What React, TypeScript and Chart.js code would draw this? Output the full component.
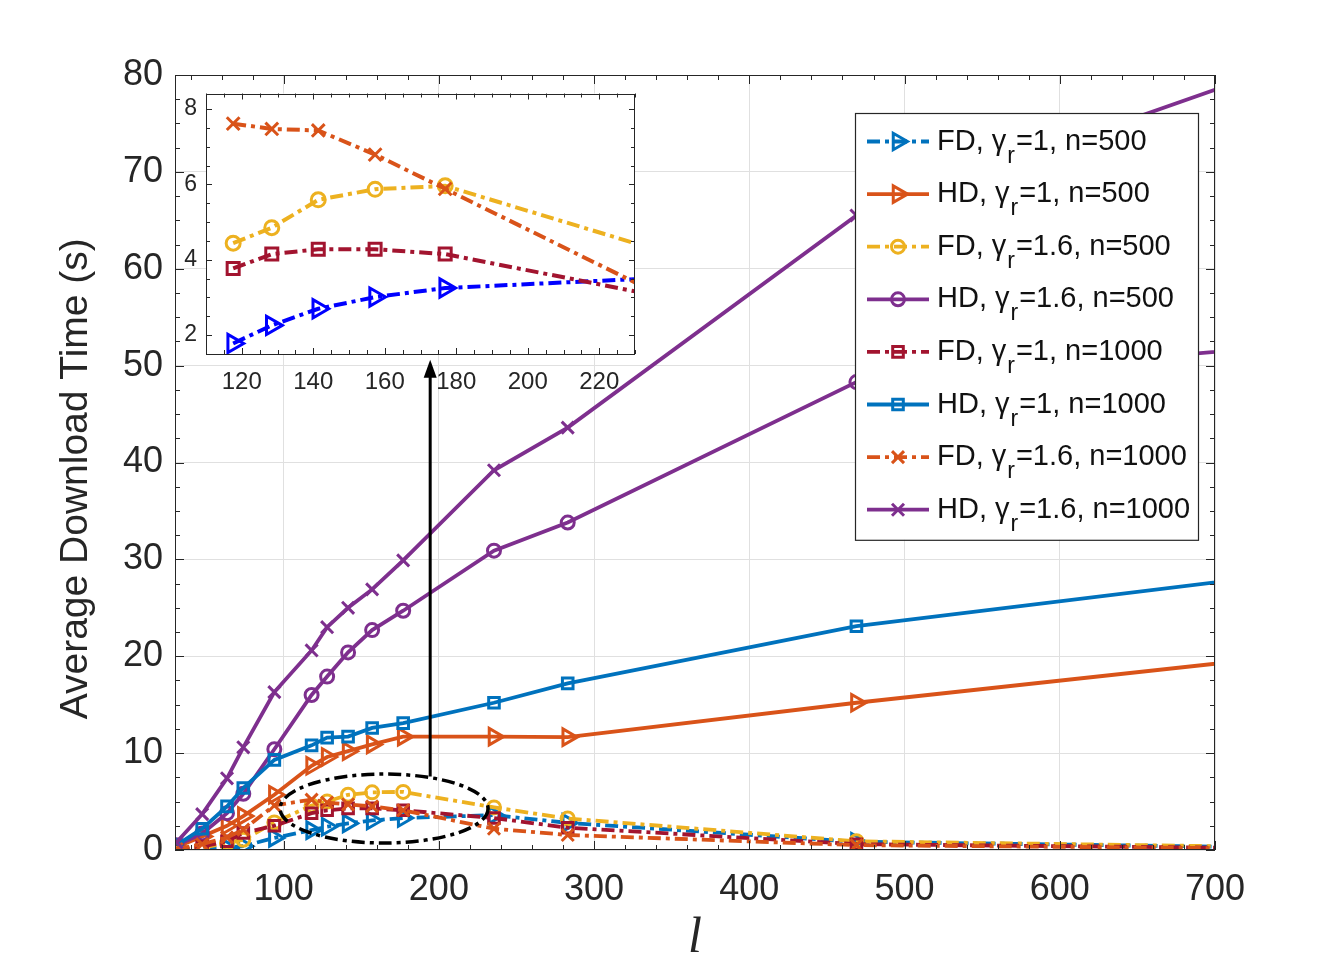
import React, { useEffect, useRef } from 'react';
import { Chart, registerables } from 'chart.js';
import { drawPoint } from 'chart.js/helpers';

Chart.register(...registerables);

// ---------- data (main axes) ----------
const xValues = [31, 47.5, 63.5, 74, 94, 118, 128, 141.5, 157, 177, 235.5, 283, 469, 750];
const fdG1N500 = [0.05, 0.1, 0.25, 0.4, 1.25, 2.05, 2.4, 2.75, 3.05, 3.3, 3.6, 2.8, 0.85, 0.24];
const hdG1N500 = [0.3, 1.4, 2.5, 3.5, 5.7, 8.7, 9.6, 10.2, 10.9, 11.7, 11.7, 11.65, 15.2, 20.1];
const fdG16N500 = [0.05, 0.25, 0.7, 1.05, 2.85, 4.6, 5.0, 5.7, 5.95, 6.0, 4.4, 3.25, 0.9, 0.29];
const hdG16N500 = [0.5, 1.7, 3.8, 5.8, 10.4, 16.0, 17.9, 20.4, 22.7, 24.7, 30.9, 33.8, 48.3, 52.1];
const fdG1N1000 = [0.05, 0.35, 0.9, 1.75, 2.5, 3.8, 4.1, 4.3, 4.3, 4.1, 3.3, 2.3, 0.6, 0.17];
const hdG1N1000 = [0.5, 2.2, 4.5, 6.4, 9.3, 10.8, 11.6, 11.7, 12.6, 13.1, 15.2, 17.2, 23.1, 28.6];
const fdG16N1000 = [0.1, 0.6, 1.3, 2.1, 4.6, 5.2, 4.9, 4.7, 4.5, 4.1, 2.2, 1.55, 0.5, 0.13];
const hdG16N1000 = [0.8, 3.7, 7.4, 10.6, 16.3, 20.6, 23.0, 25.0, 26.9, 29.9, 39.2, 43.6, 65.5, 81.3];

const xTicks = [100, 200, 300, 400, 500, 600, 700];
const yTicks = [0, 10, 20, 30, 40, 50, 60, 70, 80];
const xRange = [30, 700];
const yRange = [0, 80];

// ---------- data (inset axes) ----------
const insetX = [117.6, 128.4, 141.4, 157.3, 176.9, 235.5];
const insetFdG1N500 = [1.78, 2.26, 2.7, 3.01, 3.25, 3.51];
const insetFdG16N500 = [4.44, 4.85, 5.59, 5.87, 5.96, 4.28];
const insetFdG1N1000 = [3.77, 4.15, 4.28, 4.28, 4.15, 3.06];
const insetFdG16N1000 = [7.61, 7.47, 7.43, 6.79, 5.88, 3.14];
const insetXTicks = [120, 140, 160, 180, 200, 220];
const insetYTicks = [2, 4, 6, 8];
const insetXRange = [110, 230];
const insetYRange = [1.5, 8.41];

// ---------- annotations (data units) ----------
const ellipseCenter = { x: 164.7, y: 4.28 };
const ellipseRadii = { x: 67, y: 3.56 };
const arrowX = 194.4;
const arrowFromY = 7.6;
const arrowToY = 50.6;

// ---------- styles ----------
const FONT = "'Liberation Sans', Arial, Helvetica, sans-serif";
const TEXT = '#262626';
const GRID = '#e0e0e0';
const DASHDOT = [13, 5, 4, 5];

const C_BLUE = '#0072BD';
const C_ORANGE = '#D95319';
const C_YELLOW = '#EDB120';
const C_PURPLE = '#7E2F8E';
const C_RED = '#A2142F';

type Def = {
  mode: string; gamma: string; n: string; data: number[]; color: string;
  marker: string; rotation: number; radius: number; dashed: boolean;
};

const seriesDefs: Def[] = [
  { mode: 'FD', gamma: '1', n: '500', data: fdG1N500, color: C_BLUE, marker: 'triangle', rotation: 90, radius: 9.5, dashed: true },
  { mode: 'HD', gamma: '1', n: '500', data: hdG1N500, color: C_ORANGE, marker: 'triangle', rotation: 90, radius: 9.5, dashed: false },
  { mode: 'FD', gamma: '1.6', n: '500', data: fdG16N500, color: C_YELLOW, marker: 'circle', rotation: 0, radius: 6.5, dashed: true },
  { mode: 'HD', gamma: '1.6', n: '500', data: hdG16N500, color: C_PURPLE, marker: 'circle', rotation: 0, radius: 6.5, dashed: false },
  { mode: 'FD', gamma: '1', n: '1000', data: fdG1N1000, color: C_RED, marker: 'rect', rotation: 0, radius: 7.5, dashed: true },
  { mode: 'HD', gamma: '1', n: '1000', data: hdG1N1000, color: C_BLUE, marker: 'rect', rotation: 0, radius: 7.5, dashed: false },
  { mode: 'FD', gamma: '1.6', n: '1000', data: fdG16N1000, color: C_ORANGE, marker: 'crossRot', rotation: 0, radius: 8.5, dashed: true },
  { mode: 'HD', gamma: '1.6', n: '1000', data: hdG16N1000, color: C_PURPLE, marker: 'crossRot', rotation: 0, radius: 8.5, dashed: false },
];

const insetDefs: Def[] = [
  { mode: 'FD', gamma: '1', n: '500', data: insetFdG1N500, color: '#0000FF', marker: 'triangle', rotation: 90, radius: 10.5, dashed: true },
  { mode: 'FD', gamma: '1.6', n: '500', data: insetFdG16N500, color: C_YELLOW, marker: 'circle', rotation: 0, radius: 7, dashed: true },
  { mode: 'FD', gamma: '1', n: '1000', data: insetFdG1N1000, color: C_RED, marker: 'rect', rotation: 0, radius: 8.5, dashed: true },
  { mode: 'FD', gamma: '1.6', n: '1000', data: insetFdG16N1000, color: C_ORANGE, marker: 'crossRot', rotation: 0, radius: 9, dashed: true },
];

function makeDatasets(defs: Def[], xs: number[], width: number, markerWidth: number) {
  return defs.map((s, i) => ({
    label: `${s.mode}, γr=${s.gamma}, n=${s.n}`,
    data: xs.map((x, j) => ({ x, y: s.data[j] })),
    borderColor: s.color,
    backgroundColor: 'rgba(0,0,0,0)',
    borderWidth: width,
    borderDash: s.dashed ? DASHDOT : [],
    pointStyle: s.marker,
    pointRotation: s.rotation,
    pointRadius: s.radius,
    pointBorderColor: s.color,
    pointBackgroundColor: 'rgba(0,0,0,0)',
    pointBorderWidth: markerWidth,
    tension: 0,
    clip: 0,
    order: defs.length - i,
    _def: s,
  }));
}

function boxTicks(id: string, xStep: number, yStep: number, major: number, minor: number) {
  return {
    id,
    afterDatasetsDraw(chart: any) {
      const { ctx, chartArea: a, scales } = chart;
      const xs = scales.x, ys = scales.y;
      const xMaj = xs.ticks.map((t: any) => t.value);
      const yMaj = ys.ticks.map((t: any) => t.value);
      ctx.save();
      ctx.strokeStyle = TEXT;
      ctx.lineWidth = 1;
      ctx.setLineDash([]);
      ctx.beginPath();
      for (let i = Math.ceil(xs.min / xStep - 1e-9); i * xStep <= xs.max + 1e-9; i++) {
        const v = i * xStep;
        const px = Math.round(xs.getPixelForValue(v)) + 0.5;
        const len = xMaj.some((m: number) => Math.abs(m - v) < 1e-6) ? major : minor;
        ctx.moveTo(px, a.bottom); ctx.lineTo(px, a.bottom - len);
        ctx.moveTo(px, a.top); ctx.lineTo(px, a.top + len);
      }
      for (let i = Math.ceil(ys.min / yStep - 1e-9); i * yStep <= ys.max + 1e-9; i++) {
        const v = i * yStep;
        const py = Math.round(ys.getPixelForValue(v)) + 0.5;
        const len = yMaj.some((m: number) => Math.abs(m - v) < 1e-6) ? major : minor;
        ctx.moveTo(a.left, py); ctx.lineTo(a.left + len, py);
        ctx.moveTo(a.right, py); ctx.lineTo(a.right - len, py);
      }
      ctx.stroke();
      ctx.strokeRect(Math.round(a.left) + 0.5, Math.round(a.top) + 0.5, Math.round(a.right - a.left) - 1, Math.round(a.bottom - a.top) - 1);
      ctx.restore();
    },
  };
}

const annotationPlugin = {
  id: 'annot',
  afterDatasetsDraw(chart: any) {
    const { ctx, scales } = chart;
    const xs = scales.x, ys = scales.y;
    ctx.save();
    const cx = xs.getPixelForValue(ellipseCenter.x);
    const cy = ys.getPixelForValue(ellipseCenter.y);
    const rx = Math.abs(xs.getPixelForValue(ellipseCenter.x + ellipseRadii.x) - cx);
    const ry = Math.abs(ys.getPixelForValue(ellipseCenter.y + ellipseRadii.y) - cy);
    ctx.strokeStyle = '#000';
    ctx.lineWidth = 3.5;
    ctx.setLineDash(DASHDOT);
    ctx.beginPath();
    ctx.ellipse(cx, cy, rx, ry, 0, 0, Math.PI * 2);
    ctx.stroke();
    const ax = xs.getPixelForValue(arrowX);
    const y0 = ys.getPixelForValue(arrowFromY);
    const y1 = ys.getPixelForValue(arrowToY);
    ctx.setLineDash([]);
    ctx.lineWidth = 3;
    ctx.beginPath();
    ctx.moveTo(ax, y0);
    ctx.lineTo(ax, y1 + 14);
    ctx.stroke();
    ctx.fillStyle = '#000';
    ctx.beginPath();
    ctx.moveTo(ax, y1);
    ctx.lineTo(ax - 6.5, y1 + 18);
    ctx.lineTo(ax + 6.5, y1 + 18);
    ctx.closePath();
    ctx.fill();
    ctx.restore();
  },
};

const legendPlugin = {
  id: 'mlegend',
  afterDraw(chart: any) {
    const { ctx, chartArea: a } = chart;
    const right = a.right - 17;
    const left = right - 343;
    const top = a.top + 38;
    const rowH = 52.6;
    const bottom = top + rowH * 8 + 6;
    ctx.save();
    ctx.fillStyle = '#fff';
    ctx.fillRect(left, top, right - left, bottom - top);
    ctx.strokeStyle = TEXT;
    ctx.lineWidth = 1.2;
    ctx.strokeRect(left + 0.5, top + 0.5, right - left, bottom - top);
    chart.data.datasets.forEach((ds: any, i: number) => {
      const d: Def = ds._def;
      const y = top + 28.5 + i * rowH;
      const x0 = left + 12, x1 = left + 74;
      ctx.strokeStyle = ds.borderColor;
      ctx.lineWidth = ds.borderWidth;
      ctx.setLineDash(ds.borderDash);
      ctx.beginPath();
      ctx.moveTo(x0, y); ctx.lineTo(x1, y);
      ctx.stroke();
      ctx.setLineDash([]);
      ctx.lineWidth = ds.pointBorderWidth;
      ctx.fillStyle = 'rgba(0,0,0,0)';
      drawPoint(ctx, { pointStyle: ds.pointStyle, rotation: ds.pointRotation, radius: ds.pointRadius, borderWidth: ds.pointBorderWidth } as any, (x0 + x1) / 2, y);
      ctx.fillStyle = '#111';
      ctx.textBaseline = 'alphabetic';
      ctx.textAlign = 'left';
      let tx = left + 82;
      const base = y + 8;
      ctx.font = `29px ${FONT}`;
      const p1 = `${d.mode}, γ`;
      ctx.fillText(p1, tx, base);
      tx += ctx.measureText(p1).width + 1;
      ctx.font = `23px ${FONT}`;
      ctx.fillText('r', tx, base + 13);
      tx += ctx.measureText('r').width + 1;
      ctx.font = `29px ${FONT}`;
      ctx.fillText(`=${d.gamma}, n=${d.n}`, tx, base);
    });
    ctx.restore();
  },
};

const insetBg = {
  id: 'insetBg',
  beforeDraw(chart: any) {
    const { ctx, chartArea: a } = chart;
    ctx.save();
    ctx.fillStyle = '#fff';
    ctx.fillRect(a.left, a.top, a.right - a.left, a.bottom - a.top);
    ctx.restore();
  },
};

function noPad(s: any) {
  s.paddingTop = 0;
  s.paddingBottom = 0;
}

function mainConfig(): any {
  return {
    type: 'line',
    data: { datasets: makeDatasets(seriesDefs, xValues, 3.8, 3) },
    options: {
      responsive: false,
      animation: false,
      devicePixelRatio: 1,
      events: [],
      layout: { padding: { left: 0, top: 75, right: 129, bottom: 0 } },
      plugins: { legend: { display: false }, tooltip: { enabled: false } },
      scales: {
        x: {
          type: 'linear',
          min: xRange[0],
          max: xRange[1],
          afterFit: (s: any) => { s.height = 123; },
          afterBuildTicks: (s: any) => { s.ticks = xTicks.map((v) => ({ value: v })); },
          grid: { color: GRID, lineWidth: 1, drawTicks: false },
          border: { display: false },
          ticks: { font: { family: FONT, size: 36 }, color: TEXT, padding: 18, maxRotation: 0, autoSkip: false },
          title: {
            display: true, text: 'l', color: TEXT,
            font: { family: "'Liberation Serif', 'Times New Roman', serif", size: 50, style: 'italic' },
            padding: { top: 0, bottom: 4 },
          },
        },
        y: {
          type: 'linear',
          min: yRange[0],
          max: yRange[1],
          afterFit: (s: any) => { s.width = 175; noPad(s); },
          afterBuildTicks: (s: any) => { s.ticks = yTicks.map((v) => ({ value: v })); },
          grid: { color: GRID, lineWidth: 1, drawTicks: false },
          border: { display: false },
          ticks: { font: { family: FONT, size: 36 }, color: TEXT, padding: 12, autoSkip: false },
          title: {
            display: true, text: 'Average Download Time (s)   ', color: TEXT,
            font: { family: FONT, size: 39 },
            padding: { top: 53, bottom: 0 },
          },
        },
      },
    },
    plugins: [boxTicks('mainBox', 20, 2.5, 9, 5), annotationPlugin, legendPlugin],
  };
}

function insetConfig(): any {
  return {
    type: 'line',
    data: { datasets: makeDatasets(insetDefs, insetX, 4, 3) },
    options: {
      responsive: false,
      animation: false,
      devicePixelRatio: 1,
      events: [],
      layout: { padding: { left: 0, top: 11, right: 15, bottom: 0 } },
      plugins: { legend: { display: false }, tooltip: { enabled: false } },
      scales: {
        x: {
          type: 'linear',
          min: insetXRange[0],
          max: insetXRange[1],
          afterFit: (s: any) => { s.height = 56; s.paddingLeft = 0; s.paddingRight = 0; },
          afterBuildTicks: (s: any) => { s.ticks = insetXTicks.map((v) => ({ value: v })); },
          grid: { display: false, drawTicks: false },
          border: { display: false },
          ticks: { font: { family: FONT, size: 24 }, color: TEXT, padding: 14, maxRotation: 0, autoSkip: false },
        },
        y: {
          type: 'linear',
          min: insetYRange[0],
          max: insetYRange[1],
          afterFit: (s: any) => { s.width = 56; noPad(s); },
          afterBuildTicks: (s: any) => { s.ticks = insetYTicks.map((v) => ({ value: v })); },
          grid: { display: false, drawTicks: false },
          border: { display: false },
          ticks: { font: { family: FONT, size: 23 }, color: TEXT, padding: 9, autoSkip: false },
        },
      },
    },
    plugins: [insetBg, boxTicks('insetBox', 5, 0.5, 6, 4)],
  };
}

export default function App() {
  const mainRef = useRef<HTMLCanvasElement>(null);
  const insetRef = useRef<HTMLCanvasElement>(null);
  useEffect(() => {
    const main = new Chart(mainRef.current as HTMLCanvasElement, mainConfig());
    const inset = new Chart(insetRef.current as HTMLCanvasElement, insetConfig());
    return () => {
      main.destroy();
      inset.destroy();
    };
  }, []);
  return (
    <div style={{ position: 'fixed', left: 0, top: 0, width: 1344, height: 973, background: '#fff' }}>
      <canvas ref={mainRef} width={1344} height={973} style={{ position: 'absolute', left: 0, top: 0, width: 1344, height: 973 }} />
      <canvas ref={insetRef} width={500} height={330} style={{ position: 'absolute', left: 150, top: 80, width: 500, height: 330 }} />
    </div>
  );
}
